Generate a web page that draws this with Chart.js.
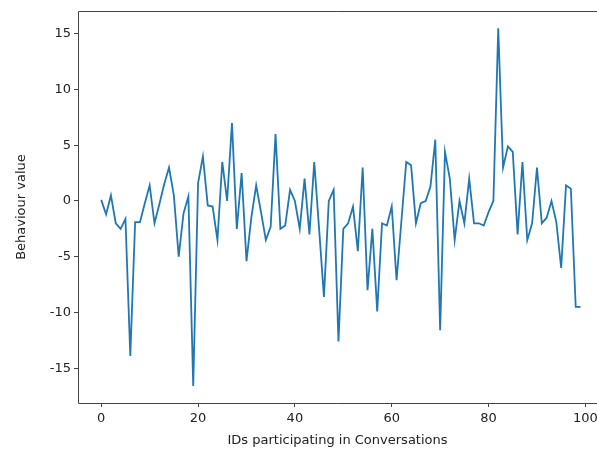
<!DOCTYPE html>
<html>
<head>
<meta charset="utf-8">
<script src="https://cdn.jsdelivr.net/npm/chart.js@4.4.1/dist/chart.umd.min.js"></script>
<style>
  html, body { margin: 0; padding: 0; background: #fff; overflow: hidden; }
</style>
</head>
<body>
<canvas id="chart" width="597" height="451"></canvas>
<script>
// behaviour value per participant id
const values = [
  0.1, -1.2, 0.5, -2.0, -2.5, -1.6, -13.9, -1.9, -1.9, -0.2,
  1.4, -2.0, -0.3, 1.5, 3.0, 0.5, -5.0, -1.1, 0.4, -16.6,
  1.6, 4.0, -0.4, -0.5, -3.5, 3.5, 0.0, 7.0, -2.5, 2.5,
  -5.4, -1.5, 1.4, -1.0, -3.5, -2.3, 6.0, -2.5, -2.2, 1.0,
  0.0, -2.5, 2.0, -3.0, 3.5, -2.5, -8.6, 0.0, 1.0, -12.6,
  -2.5, -2.0, -0.5, -4.5, 3.0, -8.0, -2.5, -9.9, -2.0, -2.2,
  -0.5, -7.1, -1.8, 3.5, 3.2, -2.0, -0.2, 0.0, 1.3, 5.5,
  -11.6, 4.4, 2.0, -3.5, 0.0, -2.0, 2.0, -2.0, -2.0, -2.2,
  -1.0, 0.0, 15.5, 3.0, 4.9, 4.4, -3.0, 3.5, -3.5, -2.0,
  3.0, -2.0, -1.5, 0.0, -1.9, -6.0, 1.4, 1.1, -9.5, -9.5
];
const ids = values.map((v, i) => i);
const xTicks = [0, 20, 40, 60, 80, 100];
const yTicks = [-15, -10, -5, 0, 5, 10, 15];

const axisColor = '#444';
const textColor = '#222';
const font = { family: 'DejaVu Sans', size: 13 };

// matplotlib style frame; the right spine falls outside the cropped picture
Chart.register({
    id: 'frameBox',
    afterDraw(chart) {
        const a = chart.chartArea;
        const ctx = chart.ctx;
        const l = Math.round(a.left) + 0.5, t = Math.round(a.top) + 0.5;
        const b = Math.round(a.bottom) + 0.5, r = chart.width;
        ctx.save();
        ctx.strokeStyle = axisColor;
        ctx.lineWidth = 1;
        ctx.beginPath();
        ctx.moveTo(r, t);
        ctx.lineTo(l, t);
        ctx.lineTo(l, b);
        ctx.lineTo(r, b);
        ctx.stroke();
        ctx.restore();
    }
});

const ctx = document.getElementById('chart').getContext('2d');
new Chart(ctx, {
    type: 'line',
    data: {
        datasets: [{
            data: ids.map((x, i) => ({ x: x, y: values[i] })),
            borderColor: '#1f77b4',
            borderWidth: 1.8,
            pointRadius: 0,
            tension: 0,
            fill: false
        }]
    },
    options: {
        responsive: false,
        animation: false,
        layout: { padding: { top: 11, right: 0, left: 0, bottom: 0 } },
        plugins: { legend: { display: false }, tooltip: { enabled: false } },
        scales: {
            x: {
                type: 'linear',
                min: -4.8,
                max: 102.4,
                afterBuildTicks(scale) { scale.ticks = xTicks.map(v => ({ value: v })); },
                afterFit(scale) { scale.height = 48; scale.paddingRight = 0; },
                grid: { drawOnChartArea: false, drawTicks: true, tickLength: 4, color: axisColor },
                border: { display: false },
                ticks: { font: font, color: textColor, padding: 4, maxRotation: 0 },
                title: {
                    display: true,
                    text: 'IDs participating in Conversations',
                    font: font,
                    color: textColor,
                    padding: { top: 2, bottom: 3 }
                }
            },
            y: {
                min: -18.12,
                max: 17.04,
                afterBuildTicks(scale) { scale.ticks = yTicks.map(v => ({ value: v })); },
                afterFit(scale) { scale.width = 78; },
                grid: { drawOnChartArea: false, drawTicks: true, tickLength: 4, color: axisColor },
                border: { display: false },
                ticks: { font: font, color: textColor, padding: 3 },
                title: {
                    display: true,
                    text: 'Behaviour value',
                    font: font,
                    color: textColor,
                    padding: { top: 14, bottom: 0 }
                }
            }
        }
    }
});
</script>
</body>
</html>
